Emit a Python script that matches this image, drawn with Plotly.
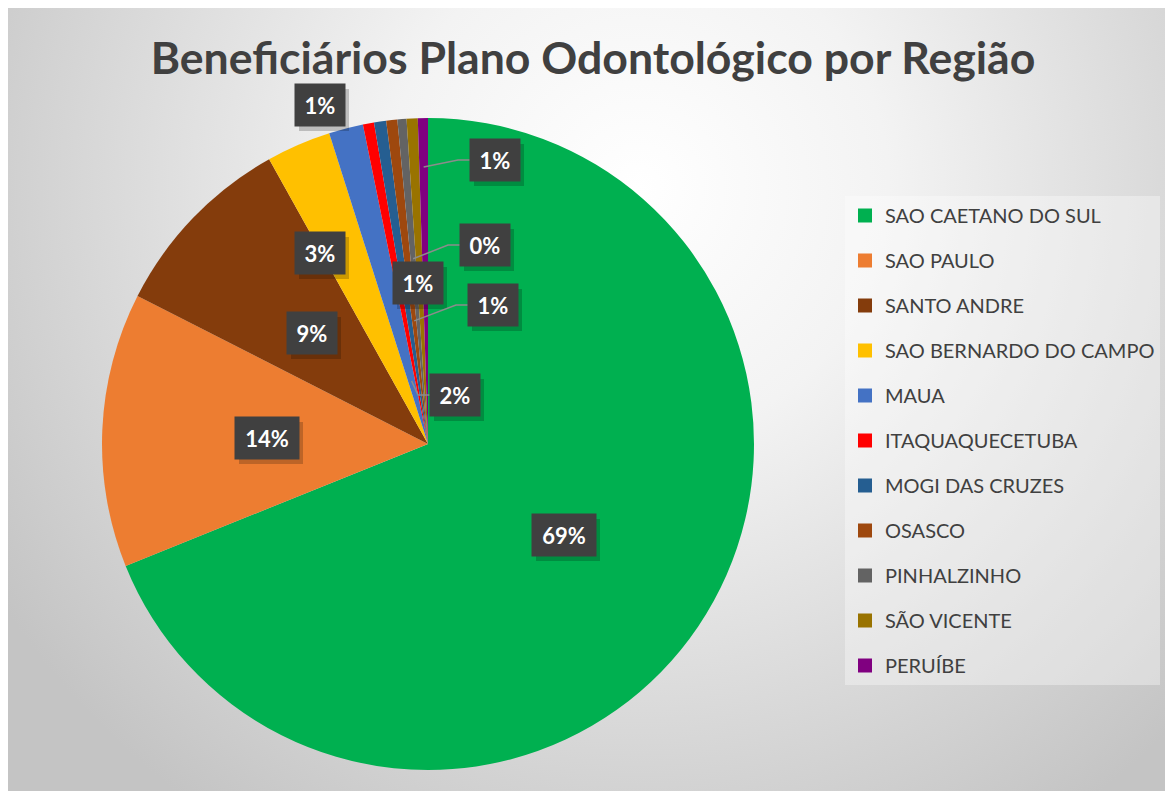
import math
import base64
import plotly.graph_objects as go

# ---------------- data ----------------
categories = ["SAO CAETANO DO SUL", "SAO PAULO", "SANTO ANDRE", "SAO BERNARDO DO CAMPO",
              "MAUA", "ITAQUAQUECETUBA", "MOGI DAS CRUZES", "OSASCO", "PINHALZINHO",
              "SÃO VICENTE", "PERUÍBE"]
values = [68.9, 13.6, 9.4, 3.2, 1.7, 0.55, 0.6, 0.55, 0.45, 0.55, 0.5]
title_text = "Beneficiários Plano Odontológico por Região"

# ---------------- style ----------------
colors = ["#00B050", "#ED7D31", "#843C0C", "#FFC000", "#4472C4", "#FF0000",
          "#255E91", "#9E480E", "#636363", "#997300", "#800080"]
# label centre offsets from pie centre in px (x right, y down); None = no label
label_offsets = [(136, 91), (-161, -6), (-116, -111), (-108, -191), (27, -49),
                 (-108, -339), (-10, -161), (65, -139), (57, -199), None, (67, -284)]
# leader-line start radius (fraction of pie radius); None = no leader line
leader_r = [None, None, None, None, 0.2, None, None, 0.38, 0.57, None, 0.85]

OX, OY = 8, 8            # page offset of the figure (body margin)
W, H = 1165, 783         # figure size
CX, CY, R = 428, 444, 326  # pie centre / radius in page pixels
FONT = "Lato"
TXT = "#404040"


def px(x, y):
    """page pixel -> paper fraction"""
    return (x - OX) / W, 1 - (y - OY) / H


# background radial gradient
svg = f'''<svg xmlns="http://www.w3.org/2000/svg" width="{W}" height="{H}" viewBox="0 0 {W} {H}">
<defs><radialGradient id="g" gradientUnits="userSpaceOnUse" cx="630" cy="180" r="760">
<stop offset="0" stop-color="#ffffff"/><stop offset="0.33" stop-color="#f3f3f3"/>
<stop offset="1" stop-color="#c4c4c4"/></radialGradient></defs>
<rect x="0" y="0" width="{W}" height="{H}" fill="url(#g)"/></svg>'''
svg_uri = "data:image/svg+xml;base64," + base64.b64encode(svg.encode()).decode()

fig = go.Figure()

x0, y1 = px(CX - R, CY - R)
x1, y0 = px(CX + R, CY + R)
fig.add_trace(go.Pie(
    labels=categories, values=values, sort=False, direction="clockwise", rotation=0,
    marker=dict(colors=colors, line=dict(width=0)), textinfo="none",
    domain=dict(x=[x0, x1], y=[y0, y1]), showlegend=False,
))

# legend via marker-only traces (one per category)
for cat, col in zip(categories, colors):
    fig.add_trace(go.Scatter(
        x=[None], y=[None], mode="markers", name=cat, legendgroup=cat,
        marker=dict(symbol="square", size=14, color=col),
    ))

# data labels computed from slice angles
total = sum(values)
annotations = []
shapes = []
cum = 0.0
BH = 42
for i, v in enumerate(values):
    a0 = cum / total * 2 * math.pi
    cum += v
    a1 = cum / total * 2 * math.pi
    am = (a0 + a1) / 2
    off = label_offsets[i]
    if off is None:
        continue
    pct = math.floor(v / total * 100 + 0.5)
    text = f"<b>{pct}%</b>"
    lx, ly = CX + off[0], CY + off[1]
    bw = 14 * len(f"{pct}%") + 22
    # shadow rectangle
    s0 = px(lx - bw / 2 + 4, ly - BH / 2 + 5)
    s1 = px(lx + bw / 2 + 4, ly + BH / 2 + 5)
    shapes.append(dict(type="rect", xref="paper", yref="paper", layer="above",
                       x0=s0[0], y0=s1[1], x1=s1[0], y1=s0[1],
                       fillcolor="rgba(0,0,0,0.2)", line=dict(width=0)))
    ax, ay = px(lx, ly)
    annotations.append(dict(x=ax, y=ay, xref="paper", yref="paper", text=text,
                            xanchor="center", yanchor="middle",
                            showarrow=False, bgcolor="#404040", width=bw - 12, height=BH - 12,
                            borderpad=6, font=dict(family=FONT, size=22, color="white")))
    if leader_r[i] is not None:
        rr = leader_r[i] * R
        sxp = CX + rr * math.sin(am)
        syp = CY - rr * math.cos(am)
        left = lx - bw / 2
        elbow = left - 12
        p0 = px(sxp, syp)
        p1 = px(elbow, ly)
        p2 = px(left, ly)
        shapes.append(dict(type="path", xref="paper", yref="paper",
                           path=f"M {p0[0]} {p0[1]} L {p1[0]} {p1[1]} L {p2[0]} {p2[1]}",
                           line=dict(color="#8c8c8c", width=1.5)))

lgx, lgy = px(845, 196)
tx, ty = px(593, 58)
fig.update_layout(
    width=W, height=H,
    margin=dict(l=0, r=0, t=0, b=0),
    paper_bgcolor="white", plot_bgcolor="rgba(0,0,0,0)",
    xaxis=dict(visible=False), yaxis=dict(visible=False),
    images=[dict(source=svg_uri, xref="paper", yref="paper", x=0, y=1,
                 sizex=1, sizey=1, sizing="stretch",
                 xanchor="left", yanchor="top", layer="below")],
    title=dict(text=f"<b>{title_text}</b>", x=tx, xanchor="center",
               y=ty, yanchor="middle", yref="container",
               font=dict(family=FONT, size=44.6, color=TXT)),
    legend=dict(x=lgx, y=lgy, xanchor="left", yanchor="top",
                bgcolor="rgba(255,255,255,0.35)", traceorder="grouped",
                tracegroupgap=16, font=dict(family=FONT, size=20, color=TXT),
                itemclick=False, itemdoubleclick=False),
    annotations=annotations, shapes=shapes,
)

fig.write_html("out.html")
